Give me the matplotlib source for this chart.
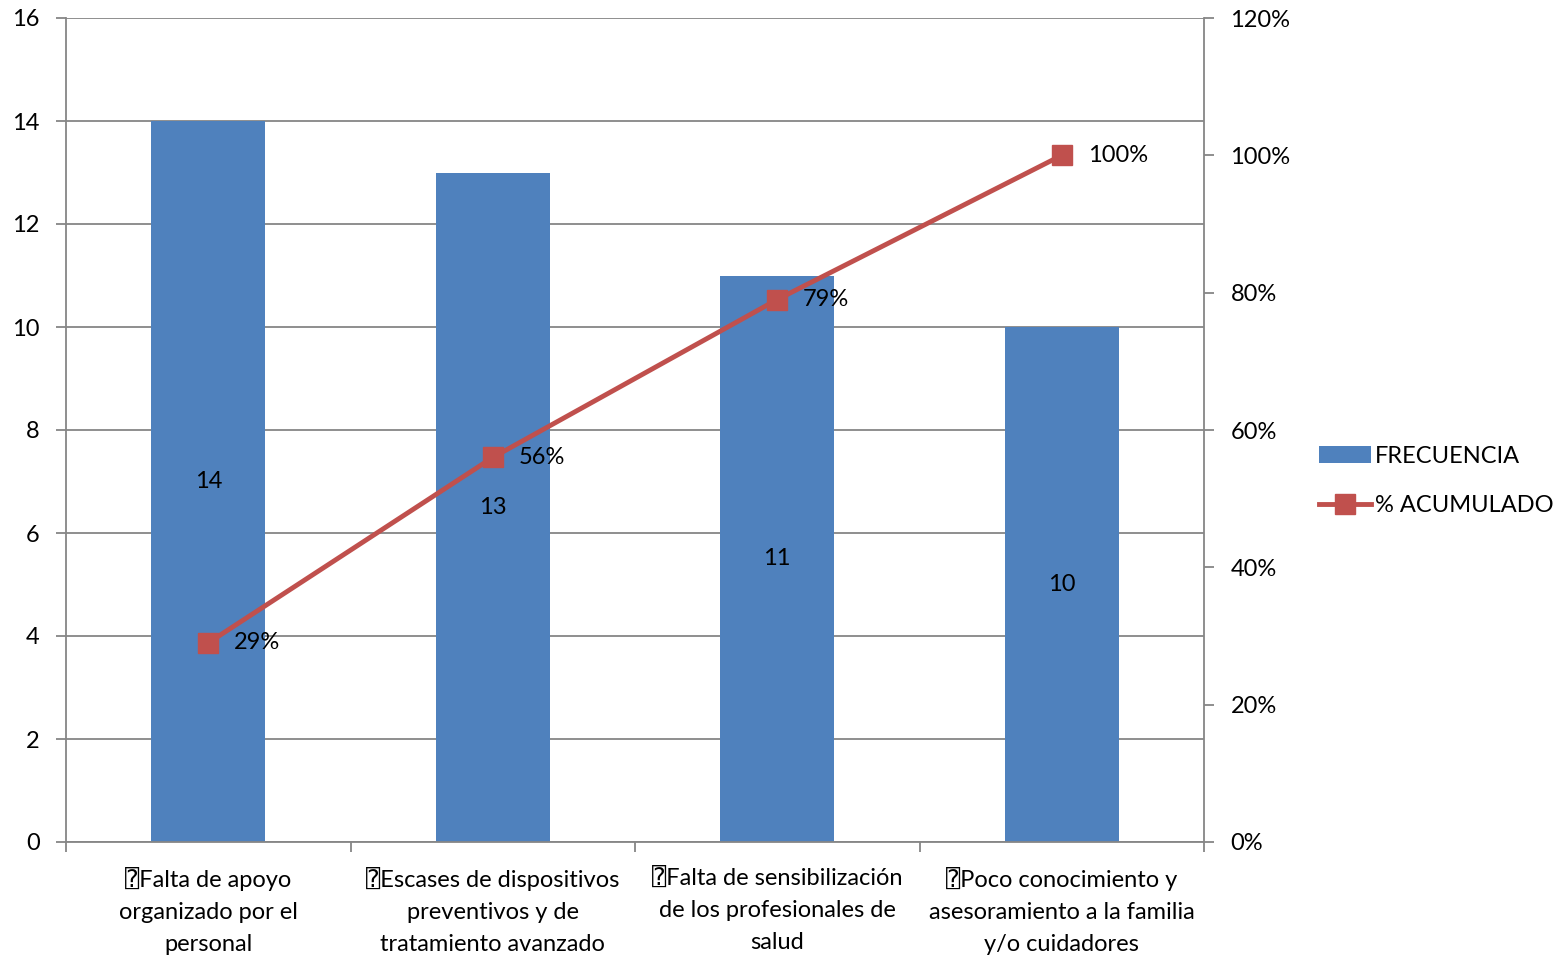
import numpy as np
import matplotlib.pyplot as plt
from matplotlib.ticker import FuncFormatter

plt.rcParams['font.family'] = ['Lato', 'DejaVu Sans', 'DejaVu Sans Mono']

categorias = ["\u2370Falta de apoyo\norganizado por el\npersonal",
              "\u2370Escases de dispositivos\npreventivos y de\ntratamiento avanzado",
              "\u2370Falta de sensibilización\nde los profesionales de\nsalud",
              "\u2370Poco conocimiento y\nasesoramiento a la familia\ny/o cuidadores"]
frecuencia = [14, 13, 11, 10]
acumulado = [0.29, 0.56, 0.79, 1.00]

azul = '#4f81bd'
rojo = '#c0504d'
gris = '#868686'
fs = 17

fig = plt.figure(figsize=(15.57, 9.58), dpi=100)
ax = fig.add_axes([66/1557, 1-842/958, (1204-66)/1557, (842-18)/958])
ax2 = ax.twinx()

x = np.arange(len(categorias))
bars = ax.bar(x, frecuencia, width=0.4, color=azul, zorder=2, label='FRECUENCIA')
for xi, v in zip(x, frecuencia):
    ax.text(xi, v/2, f"{v}", ha='center', va='center', fontsize=fs, zorder=3)

ax.set_xlim(-0.5, len(categorias)-0.5)
ax.set_ylim(0, 16)
ax.set_yticks(range(0, 17, 2))
ax.yaxis.grid(True, color=gris, lw=1.3, zorder=0)
ax.set_axisbelow(True)
ax.set_xticks(x)
ax.set_xticklabels(categorias, fontsize=fs, linespacing=1.65)
ax.set_xticks(np.arange(-0.5, len(categorias), 1), minor=True)
ax.tick_params(axis='x', which='major', length=0, pad=18)
ax.tick_params(axis='x', which='minor', length=7, color=gris, width=1.3)
ax.tick_params(axis='y', length=7, color=gris, width=1.3, labelsize=fs, pad=12)
for s in ['top', 'right']:
    ax.spines[s].set_visible(False)
for s in ['left', 'bottom']:
    ax.spines[s].set_color(gris)
    ax.spines[s].set_linewidth(1.3)

line, = ax2.plot(x, acumulado, color=rojo, lw=3.5, marker='s', markersize=14,
                 label='% ACUMULADO', zorder=4)
for xi, v in zip(x, acumulado):
    ax2.annotate(f"{v:.0%}", (xi, v), xytext=(26, 0), textcoords='offset pixels',
                 ha='left', va='center', fontsize=fs)
ax2.set_ylim(0, 1.2)
ax2.set_yticks(np.arange(0, 1.21, 0.2))
ax2.yaxis.set_major_formatter(FuncFormatter(lambda v, p: f"{v:.0%}"))
ax2.tick_params(axis='y', length=7, color=gris, width=1.3, labelsize=fs, pad=12)
for s in ['top', 'left', 'bottom']:
    ax2.spines[s].set_visible(False)
ax2.spines['right'].set_color(gris)
ax2.spines['right'].set_linewidth(1.3)

fig.legend(handles=[bars, line], loc='center left', bbox_to_anchor=(1298/1557, 1-481/958),
           frameon=False, fontsize=fs, handlelength=2.2, handletextpad=0.15, labelspacing=1.2)

fig.savefig('out.png', dpi=100)
